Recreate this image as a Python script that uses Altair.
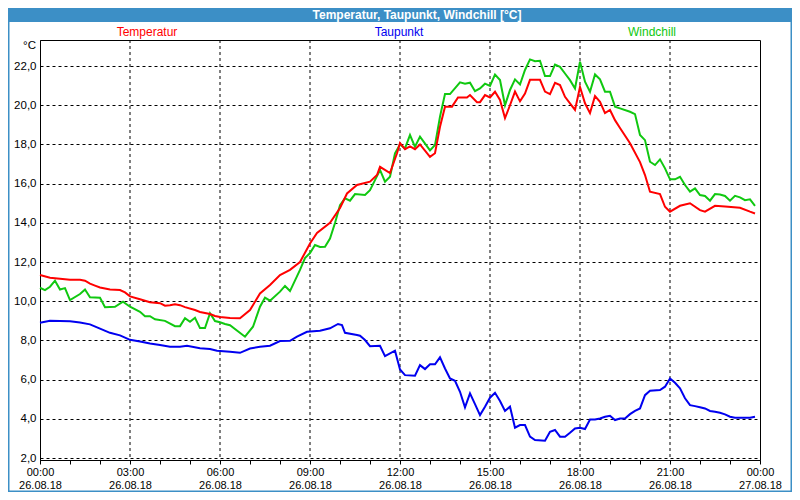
import json
import pandas as pd
import altair as alt

# ---- data (minutes after 26.08.18 00:00, values in °C) ----
temp_min = [0, 20, 40, 60, 80, 90, 100, 110, 120, 140, 160, 170, 180, 200, 220, 240, 250, 260, 270, 280,
            290, 310, 320, 340, 350, 360, 380, 400, 420, 440, 460, 480, 500, 520, 540, 554, 580, 600, 614, 634,
            660, 674, 680, 700, 714, 720, 730, 740, 750, 760, 780, 790, 800, 810, 824, 836, 854, 860, 874, 880,
            890, 900, 910, 920, 930, 940, 950, 960, 970, 980, 1000, 1010, 1020, 1030, 1040, 1050, 1060, 1070, 1080, 1090,
            1100, 1110, 1120, 1130, 1140, 1150, 1160, 1180, 1200, 1210, 1220, 1240, 1250, 1260, 1280, 1300, 1320, 1330, 1350, 1370,
            1400, 1420, 1430]
temp_val = [11.34, 11.2, 11.15, 11.1, 11.1, 11.05, 10.9, 10.8, 10.7, 10.6, 10.57, 10.45, 10.25, 10.1, 9.95, 9.9, 9.77, 9.8, 9.85, 9.8,
            9.7, 9.55, 9.45, 9.35, 9.25, 9.2, 9.15, 9.13, 9.55, 10.4, 10.83, 11.34, 11.6, 12.0, 12.95, 13.48, 14.0, 14.76, 15.5, 15.93,
            16.1, 16.44, 16.86, 16.54, 17.55, 18.07, 17.76, 17.9, 17.76, 18.0, 17.37, 17.55, 18.9, 19.93, 19.93, 20.4, 20.4, 20.52, 20.16, 20.16,
            20.52, 20.4, 20.69, 20.27, 19.35, 20.0, 20.7, 20.2, 20.6, 21.3, 21.3, 20.7, 20.57, 21.15, 21.03, 20.43, 20.1, 19.76, 20.93, 20.1,
            19.6, 20.47, 20.18, 19.6, 19.76, 19.24, 18.84, 18.06, 17.1, 16.44, 15.59, 15.47, 14.82, 14.57, 14.87, 15.0, 14.65, 14.57, 14.87, 14.83,
            14.77, 14.57, 14.48]

wind_min = [0, 10, 20, 30, 40, 50, 60, 80, 90, 100, 120, 130, 150, 166, 180, 200, 210, 220, 230, 250,
            270, 280, 290, 300, 310, 320, 330, 340, 350, 360, 370, 380, 410, 426, 440, 450, 460, 480, 490, 500,
            520, 530, 540, 550, 560, 570, 580, 590, 600, 610, 620, 630, 650, 660, 670, 680, 690, 700, 710, 720,
            730, 740, 750, 760, 780, 790, 800, 810, 820, 840, 850, 860, 870, 880, 890, 900, 910, 920, 930, 940,
            950, 960, 970, 980, 990, 1000, 1010, 1020, 1030, 1040, 1050, 1060, 1070, 1080, 1090, 1100, 1110, 1120, 1130, 1140,
            1150, 1160, 1180, 1190, 1200, 1210, 1220, 1230, 1240, 1250, 1260, 1270, 1280, 1290, 1300, 1310, 1320, 1330, 1340, 1350,
            1360, 1370, 1380, 1390, 1400, 1410, 1420, 1430]
wind_val = [10.69, 10.57, 10.74, 11.05, 10.6, 10.67, 10.06, 10.37, 10.6, 10.2, 10.18, 9.7, 9.72, 9.98, 9.72, 9.46, 9.24, 9.24, 9.08, 9.0,
            8.73, 8.73, 9.14, 8.95, 9.16, 8.63, 8.63, 9.39, 8.99, 8.93, 8.84, 8.78, 8.19, 8.7, 9.72, 10.18, 10.03, 10.49, 10.78, 10.52,
            11.6, 12.2, 12.46, 12.87, 12.77, 12.78, 13.2, 13.99, 14.9, 15.25, 15.13, 15.47, 15.42, 15.67, 16.18, 16.7, 16.1, 16.35, 17.55, 18.0,
            17.8, 18.48, 17.88, 18.4, 17.7, 17.97, 19.42, 20.57, 20.57, 21.17, 21.1, 21.15, 20.72, 20.86, 21.1, 20.99, 21.57, 21.29, 20.0, 20.78,
            21.32, 21.06, 21.8, 22.34, 22.25, 22.27, 21.49, 21.49, 22.08, 21.96, 21.62, 21.28, 20.86, 22.22, 21.2, 20.69, 21.57, 21.32, 20.69, 20.69,
            19.93, 19.84, 19.67, 19.55, 18.48, 18.22, 17.12, 16.95, 17.24, 16.78, 16.22, 16.22, 16.35, 15.93, 15.59, 15.76, 15.42, 15.37, 15.13, 15.47,
            15.45, 15.37, 15.13, 15.38, 15.3, 15.16, 15.2, 14.87]

dew_min = [0, 20, 60, 80, 100, 120, 140, 160, 180, 200, 220, 240, 260, 280, 294, 320, 340, 354, 380, 400,
           420, 440, 460, 480, 500, 514, 534, 560, 580, 596, 604, 610, 634, 640, 650, 660, 680, 690, 710, 720,
           730, 750, 760, 770, 780, 790, 800, 810, 820, 830, 840, 850, 860, 870, 880, 890, 900, 910, 920, 930,
           940, 950, 960, 970, 980, 990, 1010, 1020, 1030, 1040, 1050, 1060, 1070, 1080, 1090, 1100, 1110, 1120, 1130, 1140,
           1150, 1160, 1170, 1180, 1190, 1200, 1210, 1220, 1240, 1250, 1260, 1270, 1280, 1290, 1300, 1310, 1320, 1330, 1340, 1350,
           1360, 1370, 1380, 1390, 1420, 1430]
dew_val = [8.9, 9.0, 8.98, 8.92, 8.82, 8.6, 8.39, 8.26, 8.03, 7.95, 7.84, 7.77, 7.68, 7.68, 7.73, 7.6, 7.56, 7.48, 7.42, 7.37,
           7.59, 7.68, 7.73, 7.97, 7.98, 8.19, 8.44, 8.5, 8.62, 8.84, 8.78, 8.39, 8.28, 8.24, 8.02, 7.71, 7.73, 7.2, 7.48, 6.52,
           6.23, 6.2, 6.74, 6.54, 6.78, 6.78, 7.14, 6.57, 6.06, 5.94, 5.38, 4.59, 5.3, 4.75, 4.19, 4.62, 5.08, 5.33, 4.91, 4.4,
           4.62, 3.55, 3.68, 3.68, 3.09, 2.92, 2.88, 3.34, 3.43, 3.09, 3.09, 3.29, 3.51, 3.55, 3.48, 3.97, 3.97, 4.02, 4.11, 4.16,
           3.94, 4.02, 4.02, 4.24, 4.41, 4.53, 5.21, 5.43, 5.47, 5.64, 6.06, 5.84, 5.56, 5.05, 4.7, 4.65, 4.59, 4.53, 4.4, 4.36,
           4.31, 4.23, 4.11, 4.06, 4.06, 4.11]

series_names = ["Temperatur", "Taupunkt", "Windchill"]
series_colors = ["#ff0000", "#0000f0", "#10c810"]
y_ticks = [2, 4, 6, 8, 10, 12, 14, 16, 18, 20, 22]
x_ticks_h = list(range(0, 25))
x_grid_h = [3, 6, 9, 12, 15, 18, 21]
time_labels = ["00:00", "03:00", "06:00", "09:00", "12:00", "15:00", "18:00", "21:00", "00:00"]
date_labels = ["26.08.18", "26.08.18", "26.08.18", "26.08.18", "26.08.18", "26.08.18", "26.08.18", "26.08.18", "27.08.18"]
title_text = "Temperatur, Taupunkt, Windchill [°C]"
unit_text = "°C"

# ---- layout ----
W, H = 720, 420
PAD = 32
FONT = "Liberation Sans"
BLUE = "#3c8fc6"

def series_df(mins, vals, name):
    return pd.DataFrame({"h": [m / 60 for m in mins], "v": vals, "s": name})

xscale = alt.Scale(domain=[0, 24], nice=False, zero=False)
yscale = alt.Scale(domain=[1.9, 23.33], nice=False, zero=False)

label_expr = ("datum.value % 3 == 0 ? [" + json.dumps(time_labels) + "[datum.value / 3], "
              + json.dumps(date_labels) + "[datum.value / 3]] : ''")

xaxis = alt.Axis(values=x_ticks_h, labelExpr=label_expr, grid=False, tickSize=4, tickColor="black",
                 domainColor="black", labelColor="black", labelFont=FONT, labelFontSize=11,
                 labelPadding=2, labelLineHeight=13, labelBaseline="top", labelFlush=False,
                 labelOverlap=False, title="")
yaxis = alt.Axis(values=y_ticks, format=".1f", labelExpr="replace(datum.label, '.', ',')", grid=True,
                 gridColor="black", gridDash=[3, 3], gridOpacity=1, gridWidth=1, ticks=False, tickSize=0,
                 domainColor="black", labelColor="black", labelFont=FONT, labelFontSize=11.5,
                 labelPadding=4, title="")

X = alt.X("h:Q", scale=xscale, axis=xaxis)
Y = alt.Y("v:Q", scale=yscale, axis=yaxis)

grid_rules = alt.Chart(pd.DataFrame({"h": x_grid_h})).mark_rule(
    color="black", strokeDash=[3, 3], strokeWidth=1).encode(x=X)

def line_layer(df, color):
    return alt.Chart(df).mark_line(color=color, strokeWidth=2).encode(x=X, y=Y)

dew = line_layer(series_df(dew_min, dew_val, series_names[1]), series_colors[1])
wind = line_layer(series_df(wind_min, wind_val, series_names[2]), series_colors[2])
temp = line_layer(series_df(temp_min, temp_val, series_names[0]), series_colors[0])

one = pd.DataFrame({"t": [title_text]})
border = alt.Chart(one).mark_rect(filled=False, stroke=BLUE, strokeWidth=1.5).encode(
    x=alt.value(-31.25), x2=alt.value(W + 31.25), y=alt.value(-31.25), y2=alt.value(H + 31.25))
title_bar = alt.Chart(one).mark_rect(color=BLUE).encode(
    x=alt.value(-PAD), x2=alt.value(W + PAD), y=alt.value(-PAD), y2=alt.value(-18))
title = alt.Chart(one).mark_text(color="white", fontWeight="bold", fontSize=12, font=FONT,
                                 align="center", baseline="middle").encode(
    x=alt.value(377), y=alt.value(-25), text="t:N")

legend_x = [107, 359, 612]
legend_layers = []
for name, col, lx in zip(series_names, series_colors, legend_x):
    legend_layers.append(
        alt.Chart(pd.DataFrame({"t": [name]})).mark_text(
            color=col, fontSize=12, font=FONT, align="center", baseline="middle").encode(
            x=alt.value(lx), y=alt.value(-8), text="t:N"))

unit = alt.Chart(pd.DataFrame({"t": [unit_text]})).mark_text(
    color="black", fontSize=11.5, font=FONT, align="right", baseline="middle").encode(
    x=alt.value(-4), y=alt.value(6), text="t:N")

chart = alt.layer(border, grid_rules, dew, wind, temp, title_bar, title, *legend_layers, unit).properties(
    width=W, height=H,
    padding={"left": PAD, "top": PAD, "right": PAD, "bottom": PAD},
    autosize=alt.AutoSizeParams(type="none"),
    background="white",
).configure_view(stroke="black", strokeWidth=1)

chart.save("out.html", embed_options={"renderer": "svg", "actions": False})
